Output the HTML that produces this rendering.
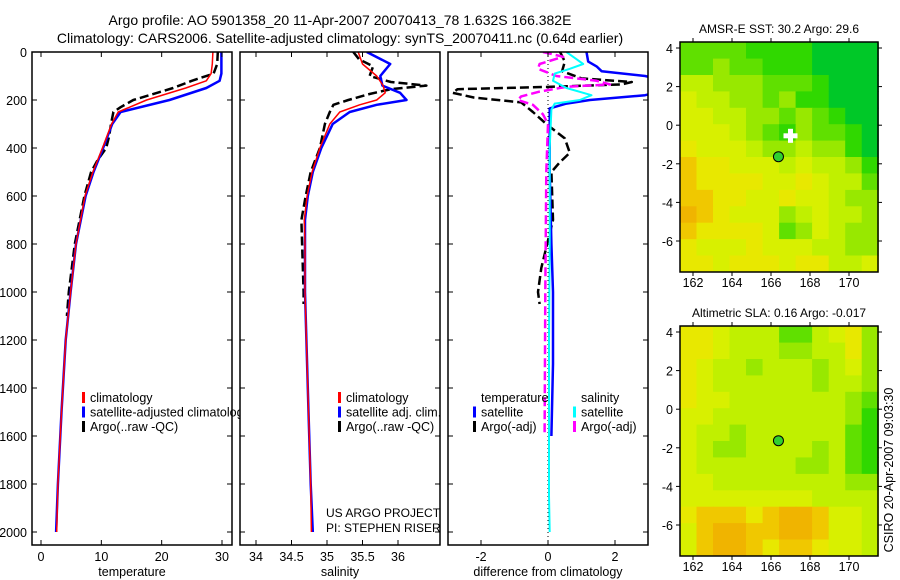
<!DOCTYPE html>
<html><head><meta charset="utf-8">
<style>
body{margin:0;background:#fff;}
svg{display:block;font-family:"Liberation Sans",sans-serif;}
</style></head>
<body>
<svg id="fig" width="900" height="580" viewBox="0 0 900 580" xmlns="http://www.w3.org/2000/svg">
<rect width="900" height="580" fill="#fff"/>
<text x="340" y="25" font-size="14" text-anchor="middle">Argo profile: AO 5901358_20 11-Apr-2007 20070413_78 1.632S 166.382E</text>
<text x="340" y="43" font-size="14" text-anchor="middle">Climatology: CARS2006. Satellite-adjusted climatology: synTS_20070411.nc (0.64d earlier)</text>
<g id="layers"></g>
</svg>
<script>
// ---------- DATA ----------
const tempDepth = [0,50,90,120,150,200,250,300,400,500,600,800,1000,1200,1500,1800,2000];
const tempClim  = [28.5,28.4,28.2,27.4,24,17.5,12.8,11.7,10.2,8.6,7.3,5.8,4.9,4.1,3.4,2.8,2.6];
const tempSat   = [29.9,29.9,29.9,29.6,27.4,21.3,13.2,11.8,10.3,8.7,7.4,5.8,4.9,4.1,3.4,2.8,2.5];
const tempArgoDepth = [0,50,90,120,150,200,230,250,300,350,400,450,500,600,800,1000,1100];
const tempArgo  = [29.3,29.2,28.6,25,21.9,15.3,13.2,12,11.6,11.3,10.8,9.4,8.3,7.2,5.6,4.6,4.3];

const salDepth = [0,50,100,140,170,200,220,250,300,400,500,600,700,800,1000,1200,1500,1800,2000];
const salClim  = [35.44,35.5,35.7,35.79,35.82,35.7,35.46,35.18,35.04,34.9,34.79,34.72,34.68,34.69,34.69,34.71,34.74,34.77,34.78];
const salSat   = [35.56,35.89,35.75,35.78,36.03,36.12,35.7,35.32,35.08,34.92,34.8,34.73,34.69,34.69,34.69,34.71,34.74,34.77,34.8];
const salArgoDepth = [0,30,60,100,125,140,155,175,200,220,250,300,400,500,600,700,800,1000,1050];
const salArgo  = [35.37,35.45,35.65,35.6,35.9,36.4,35.9,35.6,35.3,35.09,35.04,34.97,34.9,34.77,34.7,34.64,34.65,34.67,34.67];

const dTsatDepth = [0,40,60,80,100,110,170,180,200,215,235,300,500,800,1000,1300,1600];
const dTsat      = [1.15,1.2,1.45,1.6,2.9,3.2,3.2,2.9,1.25,0.55,0.05,0.05,0.05,0.1,0.15,0.15,0.1];
const dTargoDepth = [0,40,80,110,125,135,145,155,170,190,210,250,300,360,420,460,500,700,900,1000,1050];
const dTargo      = [0.36,0.5,0.42,1.0,2.5,2.2,0.1,-2.7,-2.85,-2.2,-0.8,-0.45,-0.05,0.5,0.65,0.35,0.1,0.15,-0.2,-0.3,-0.25];
const dSsatDepth = [0,30,50,70,90,120,150,180,200,215,240,400,800,1200,1600,1850,2000];
const dSsat      = [0.55,0.85,1.05,0.65,0.2,0.15,0.55,1.3,0.95,0.2,0.1,0.05,0.05,0.03,0.03,0.03,0.05];
const dSargoDepth = [0,20,50,70,100,120,135,145,165,185,200,220,260,300,500,1000,1600];
const dSargo      = [-0.15,0.45,-0.25,-0.3,0.25,1.45,1.85,0.55,-0.25,-0.8,-0.9,-0.45,-0.15,0,-0.05,-0.08,-0.1];

const depthTicks = [0,200,400,600,800,1000,1200,1400,1600,1800,2000];
const tempTicks = [0,10,20,30];
const salTicks = [34,34.5,35,35.5,36];
const diffTicks = [-2,0,2];
const lonTicks = [162,164,166,168,170];
const latTicks = [4,2,0,-2,-4,-6];

const sstGrid = [
[7,7,7,7,8,8,8,8,9,9,9,9],
[7,7,6,7,7,8,8,8,9,9,9,9],
[5,5,6,6,6,7,7,7,8,9,9,9],
[4,5,5,6,6,7,6,8,8,9,9,9],
[4,4,5,5,6,6,7,6,7,8,9,9],
[4,4,4,5,6,7,8,6,7,7,8,9],
[3,4,4,4,5,6,6,5,6,6,8,9],
[2,3,3,4,4,4,5,4,5,5,6,8],
[2,3,3,3,3,4,4,3,4,5,5,7],
[2,2,3,3,4,4,3,4,4,5,6,6],
[1,2,3,4,4,4,6,5,4,5,5,6],
[2,3,3,3,3,4,7,6,4,5,6,6],
[3,4,4,4,3,4,4,4,5,5,6,6],
[3,3,4,3,3,3,4,3,3,5,5,4]];
const slaGrid = [
[3,3,4,5,5,5,7,7,5,4,3,6],
[3,3,4,5,5,5,6,6,5,5,3,6],
[3,4,5,5,6,5,5,5,6,5,4,6],
[3,4,5,5,5,5,5,5,6,5,5,6],
[3,4,4,5,5,5,5,5,5,5,6,7],
[4,4,5,5,5,5,5,5,5,5,6,8],
[4,5,5,6,5,5,5,5,5,5,7,8],
[4,5,6,6,5,5,5,5,6,5,7,8],
[4,5,5,5,5,5,5,6,6,5,7,8],
[4,4,5,5,5,5,5,5,5,5,6,6],
[4,4,4,4,4,4,4,4,5,5,5,5],
[3,2,2,2,3,2,1,1,2,4,4,5],
[4,2,1,1,2,2,1,1,2,4,4,5],
[4,2,1,1,2,3,2,2,3,4,4,5]];
const argoLon = 166.382, argoLat = -1.632;
const crossLon = 167.0, crossLat = -0.55;

// ---------- DRAW ----------
const NS="http://www.w3.org/2000/svg";
const root=document.getElementById('layers');
function el(tag,attrs,parent,txt){const e=document.createElementNS(NS,tag);for(const k in attrs)e.setAttribute(k,attrs[k]);if(txt!==undefined)e.textContent=txt;(parent||root).appendChild(e);return e;}
function lin(d0,d1,r0,r1){return v=>r0+(v-d0)*(r1-r0)/(d1-d0);}
const yD = lin(0,2000,52,532);

function panel(name,x0,x1,xs,ticks,label,fmt){
  const g=el('g',{});
  
  
  const cid='clip-'+name;
  const cp=el('clipPath',{id:cid},g);el('rect',{x:x0,y:52,width:x1-x0,height:493},cp);
  const plot=el('g',{'clip-path':'url(#'+cid+')'},g);
  depthTicks.forEach(d=>{const y=yD(d);
    el('line',{x1:x0,x2:x0+5,y1:y,y2:y,stroke:'#000'},g);el('line',{x1:x1-5,x2:x1,y1:y,y2:y,stroke:'#000'},g);});
  ticks.forEach(t=>{const x=xs(t);
    el('line',{x1:x,x2:x,y1:545,y2:540,stroke:'#000'},g);el('line',{x1:x,x2:x,y1:52,y2:57,stroke:'#000'},g);
    const tl=el('text',{x:x,y:561,'font-size':12.5,'text-anchor':'middle'},g,fmt(t));
    });
  const xl=el('text',{x:(x0+x1)/2,y:576,'font-size':12.5,'text-anchor':'middle'},g,label);
  
  return {g,plot,frame:()=>el('rect',{x:x0,y:52,width:x1-x0,height:493,fill:'none',stroke:'#000','stroke-width':1.5},g)};
}
function series(plot,name,depths,vals,xs,color,w,dash){
  let d='';let started=false;
  vals.forEach((v,i)=>{if(v===null){started=false;return;}
    d+=(started?'L':'M')+xs(v).toFixed(1)+','+yD(depths[i]).toFixed(1);started=true;});
  const p=el('path',{d:d,fill:'none',stroke:color,'stroke-width':w,'stroke-linejoin':'round'},plot);
  if(dash)p.setAttribute('stroke-dasharray',dash);
  
  
}
function legend(g,x,y,items){
  items.forEach((it,i)=>{
    if(it[0]) el('rect',{x:x,y:y+i*14.5-6,width:3,height:11,fill:it[0]},g);
    const t=el('text',{x:x+8,y:y+i*14.5+4,'font-size':12.5},g,it[1]);
    
    
  });
}

depthTicks.forEach(d=>{const t=el('text',{x:27,y:yD(d)+5,'font-size':12.5,'text-anchor':'end'},root,String(d));
  });

// temperature
const xT=lin(0,30,41,222);
const P1=panel('temperature-panel',32,232,xT,tempTicks,'temperature',String);
series(P1.plot,'temp-argo',tempArgoDepth,tempArgo,xT,'#000',2.5,'9,4');
series(P1.plot,'temp-satellite',tempDepth,tempSat,xT,'#0000ff',2.5);
series(P1.plot,'temp-climatology',tempDepth,tempClim,xT,'#ff0000',1.5);
P1.frame();
// temp legend clipped at salinity panel left edge
const lcp=el('clipPath',{id:'clip-leg1'},root);el('rect',{x:32,y:380,width:208,height:60},lcp);
const L1=el('g',{'clip-path':'url(#clip-leg1)'},root);


legend(L1,82,398,[['#ff0000','climatology'],['#0000ff','satellite-adjusted climatology'],['#000','Argo(..raw -QC)']]);
// salinity
const xS=lin(34,36,256,398);
const P2=panel('salinity-panel',240,440,xS,salTicks,'salinity',String);
series(P2.plot,'sal-argo',salArgoDepth,salArgo,xS,'#000',2.5,'9,4');
series(P2.plot,'sal-satellite',salDepth,salSat,xS,'#0000ff',2.5);
series(P2.plot,'sal-climatology',salDepth,salClim,xS,'#ff0000',1.5);
P2.frame();
legend(P2.g,338,398,[['#ff0000','climatology'],['#0000ff','satellite adj. clim.'],['#000','Argo(..raw -QC)']]);
el('text',{x:326,y:517,'font-size':12},P2.g,'US ARGO PROJECT');
el('text',{x:326,y:532,'font-size':12},P2.g,'PI: STEPHEN RISER');
// difference
const xF=lin(-2,2,481,615);
const P3=panel('difference-panel',448,648,xF,diffTicks,'difference from climatology',String);
el('line',{x1:xF(0),x2:xF(0),y1:52,y2:545,stroke:'#000','stroke-dasharray':'1,3'},P3.plot);
series(P3.plot,'diff-temp-argo',dTargoDepth,dTargo,xF,'#000',2.5,'9,4');
series(P3.plot,'diff-temp-satellite',dTsatDepth,dTsat,xF,'#0000ff',2.5);
series(P3.plot,'diff-sal-argo',dSargoDepth,dSargo,xF,'#ff00ff',2.5,'9,4');
series(P3.plot,'diff-sal-satellite',dSsatDepth,dSsat,xF,'#00ffff',2);
P3.frame();
legend(P3.g,473,398,[[null,'temperature'],['#0000ff','satellite'],['#000','Argo(-adj)']]);
legend(P3.g,573,398,[[null,'salinity'],['#00ffff','satellite'],['#ff00ff','Argo(-adj)']]);

// maps
const stops=[[0,[240,160,0]],[2,[240,200,0]],[3,[232,232,0]],[4,[216,240,0]],[5,[192,240,0]],[6,[152,232,0]],[7,[96,224,0]],[8,[48,216,0]],[9,[0,200,40]]];
function ramp(v){for(let i=0;i<stops.length-1;i++){const a=stops[i],b=stops[i+1];if(v<=b[0]){const t=(v-a[0])/(b[0]-a[0]);return 'rgb('+a[1].map((c,j)=>Math.round(c+(b[1][j]-c)*t)).join(',')+')';}}return 'rgb(0,200,40)';}
function map(name,top,grid,title,showX){
  const g=el('g',{});
  
  
  const bottom=top+230;
  const xL=lin(162,170,693,849), yL=lin(4,-6,top+6,top+199);
  const lon0=161.33,lon1=171.5,lat0=4.3,lat1=-7.6;
  const nr=grid.length,nc=grid[0].length;
  grid.forEach((row,r)=>row.forEach((v,c)=>{
    const la=lon0+(lon1-lon0)*c/nc, lb=lon0+(lon1-lon0)*(c+1)/nc;
    const ta=lat0+(lat1-lat0)*r/nr, tb=lat0+(lat1-lat0)*(r+1)/nr;
    const cell=el('rect',{x:xL(la).toFixed(1),y:yL(ta).toFixed(1),width:(xL(lb)-xL(la)+0.6).toFixed(1),height:(yL(tb)-yL(ta)+0.6).toFixed(1),fill:ramp(v)},g);
    
    
  }));
  el('rect',{x:680,y:top,width:198,height:230,fill:'none',stroke:'#000','stroke-width':1.5},g);
  latTicks.forEach(t=>{const y=yL(t);
    el('line',{x1:680,x2:676,y1:y,y2:y,stroke:'#000'},g);el('line',{x1:878,x2:882,y1:y,y2:y,stroke:'#000'},g);
    el('text',{x:673,y:y+5,'font-size':12.5,'text-anchor':'end'},g,String(t));});
  lonTicks.forEach(t=>{const x=xL(t);
    el('line',{x1:x,x2:x,y1:bottom,y2:bottom+4,stroke:'#000'},g);el('line',{x1:x,x2:x,y1:top,y2:top-4,stroke:'#000'},g);
    if(showX) el('text',{x:x,y:bottom+15,'font-size':12.5,'text-anchor':'middle'},g,String(t));});
  const tt=el('text',{x:779,y:top-9,'font-size':12,'text-anchor':'middle'},g,title);
  
  const m=el('circle',{cx:xL(argoLon),cy:yL(argoLat),r:5,fill:'#30d030',stroke:'#000','stroke-width':1},g);
  
  return {g,xL,yL};
}
const M1=map('sst-map',42,sstGrid,'AMSR-E SST: 30.2  Argo: 29.6',true);
const cx=M1.xL(crossLon),cy=M1.yL(crossLat);
el('rect',{x:cx-7,y:cy-2.5,width:14,height:5,fill:'#fff'},M1.g);
el('rect',{x:cx-2.5,y:cy-7,width:5,height:14,fill:'#fff'},M1.g);
const M2=map('sla-map',326,slaGrid,'Altimetric SLA: 0.16  Argo: -0.017',true);
const ft=el('text',{x:0,y:0,'font-size':12.5,'text-anchor':'middle',transform:'translate(893,470) rotate(-90)'},root,'CSIRO 20-Apr-2007 09:03:30');

</script>
</body></html>
